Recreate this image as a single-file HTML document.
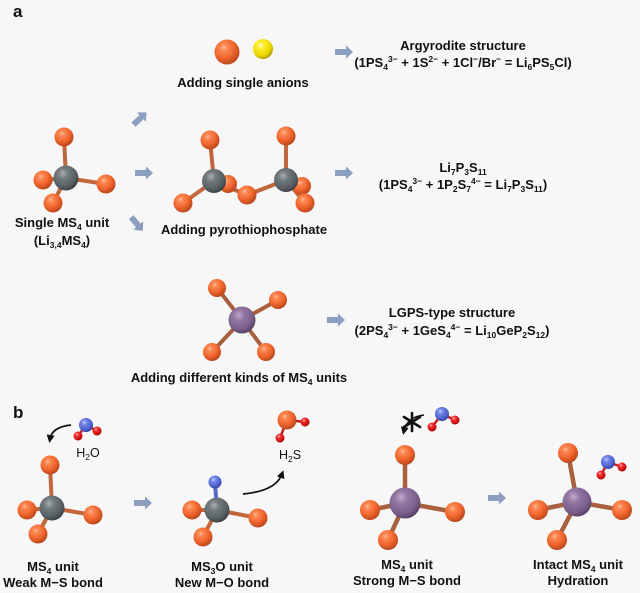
<!DOCTYPE html>
<html><head><meta charset="utf-8">
<style>
html,body{margin:0;padding:0;}
body{width:640px;height:593px;background:#f7f7f7;position:relative;overflow:hidden;font-family:"Liberation Sans",Arial,sans-serif;}
svg{position:absolute;left:0;top:0;}
.t{position:absolute;font-weight:bold;font-size:13px;line-height:16px;text-align:center;white-space:nowrap;transform:translateX(-50%);color:#111;}
.n{font-weight:normal;font-size:12.5px;}
sub{font-size:8.5px;vertical-align:-3px;line-height:0;}
sup{font-size:8.5px;vertical-align:5px;line-height:0;}
.lbl{position:absolute;font-weight:bold;font-size:17px;color:#111;}
</style></head><body>
<svg width="640" height="593" viewBox="0 0 640 593">
<defs>
<radialGradient id="o" cx="38%" cy="32%" r="70%"><stop offset="0" stop-color="#ffc0a0"/><stop offset="0.18" stop-color="#fb8a55"/><stop offset="0.6" stop-color="#f0652c"/><stop offset="1" stop-color="#b8461c"/></radialGradient>
<radialGradient id="y" cx="38%" cy="32%" r="70%"><stop offset="0" stop-color="#fffbc0"/><stop offset="0.25" stop-color="#fbee30"/><stop offset="0.7" stop-color="#eed800"/><stop offset="1" stop-color="#b0a000"/></radialGradient>
<radialGradient id="g" cx="38%" cy="32%" r="70%"><stop offset="0" stop-color="#a8aeb2"/><stop offset="0.3" stop-color="#737a7e"/><stop offset="0.75" stop-color="#585f63"/><stop offset="1" stop-color="#3a4043"/></radialGradient>
<radialGradient id="p" cx="38%" cy="32%" r="70%"><stop offset="0" stop-color="#c0aacb"/><stop offset="0.3" stop-color="#9277a2"/><stop offset="0.75" stop-color="#7a5e8a"/><stop offset="1" stop-color="#564064"/></radialGradient>
<radialGradient id="b" cx="38%" cy="32%" r="70%"><stop offset="0" stop-color="#b8c4ff"/><stop offset="0.3" stop-color="#6f82e6"/><stop offset="0.75" stop-color="#4c5fcc"/><stop offset="1" stop-color="#32409a"/></radialGradient>
<radialGradient id="r" cx="38%" cy="32%" r="70%"><stop offset="0" stop-color="#ffb0b0"/><stop offset="0.3" stop-color="#f03030"/><stop offset="0.75" stop-color="#d01010"/><stop offset="1" stop-color="#900000"/></radialGradient>
<g id="arr"><polygon points="-9,-3 2,-3 2,-6.5 9,0 2,6.5 2,3 -9,3" fill="#8c9fc0"/></g>
<marker id="ah" markerWidth="8" markerHeight="8" refX="4" refY="4" orient="auto" markerUnits="userSpaceOnUse"><path d="M0,0 L8,4 L0,8 Z" fill="#111"/></marker>
</defs>

<!-- block arrows -->
<use href="#arr" transform="translate(140,118.5) rotate(-43)"/>
<use href="#arr" transform="translate(144,173)"/>
<use href="#arr" transform="translate(137,224) rotate(50)"/>
<use href="#arr" transform="translate(344,52)"/>
<use href="#arr" transform="translate(344,173)"/>
<use href="#arr" transform="translate(336,320)"/>
<use href="#arr" transform="translate(143,503)"/>
<use href="#arr" transform="translate(497,498)"/>

<!-- single anions -->
<circle cx="227" cy="52" r="12.5" fill="url(#o)"/>
<circle cx="263" cy="49" r="10" fill="url(#y)"/>

<!-- single MS4 unit (a) -->
<g stroke="#c0683c" stroke-width="4" stroke-linecap="round">
<line x1="66" y1="178" x2="64" y2="137"/><line x1="66" y1="178" x2="43" y2="180"/><line x1="66" y1="178" x2="106" y2="184"/><line x1="66" y1="178" x2="53" y2="203"/>
</g>
<circle cx="43" cy="180" r="9.5" fill="url(#o)"/>
<circle cx="64" cy="137" r="9.5" fill="url(#o)"/>
<circle cx="66" cy="178" r="12.5" fill="url(#g)"/>
<circle cx="106" cy="184" r="9.5" fill="url(#o)"/>
<circle cx="53" cy="203" r="9.5" fill="url(#o)"/>

<!-- pyrothiophosphate -->
<g stroke="#c0683c" stroke-width="4" stroke-linecap="round">
<line x1="214" y1="181" x2="210" y2="140"/><line x1="214" y1="181" x2="183" y2="203"/><line x1="214" y1="181" x2="228" y2="184"/><line x1="214" y1="181" x2="247" y2="195"/>
<line x1="286" y1="180" x2="286" y2="136"/><line x1="286" y1="180" x2="247" y2="195"/><line x1="286" y1="180" x2="302" y2="186"/><line x1="286" y1="180" x2="305" y2="203"/>
</g>
<circle cx="228" cy="184" r="9" fill="url(#o)"/>
<circle cx="302" cy="186" r="9" fill="url(#o)"/>
<circle cx="210" cy="140" r="9.5" fill="url(#o)"/>
<circle cx="286" cy="136" r="9.5" fill="url(#o)"/>
<circle cx="214" cy="181" r="12" fill="url(#g)"/>
<circle cx="286" cy="180" r="12" fill="url(#g)"/>
<circle cx="247" cy="195" r="9.5" fill="url(#o)"/>
<circle cx="183" cy="203" r="9.5" fill="url(#o)"/>
<circle cx="305" cy="203" r="9.5" fill="url(#o)"/>

<!-- purple MS4 (a) -->
<g stroke="#a8603f" stroke-width="4" stroke-linecap="round">
<line x1="242" y1="320" x2="217" y2="288"/><line x1="242" y1="320" x2="278" y2="300"/><line x1="242" y1="320" x2="212" y2="352"/><line x1="242" y1="320" x2="266" y2="352"/>
</g>
<circle cx="217" cy="288" r="9" fill="url(#o)"/>
<circle cx="278" cy="300" r="9" fill="url(#o)"/>
<circle cx="242" cy="320" r="13.5" fill="url(#p)"/>
<circle cx="212" cy="352" r="9" fill="url(#o)"/>
<circle cx="266" cy="352" r="9" fill="url(#o)"/>

<!-- b: MS4 unit weak -->
<g stroke="#c0683c" stroke-width="4" stroke-linecap="round">
<line x1="52" y1="508" x2="50" y2="465"/><line x1="52" y1="508" x2="27" y2="510"/><line x1="52" y1="508" x2="93" y2="515"/><line x1="52" y1="508" x2="38" y2="534"/>
</g>
<circle cx="27" cy="510" r="9.5" fill="url(#o)"/>
<circle cx="50" cy="465" r="9.5" fill="url(#o)"/>
<circle cx="52" cy="508" r="12.5" fill="url(#g)"/>
<circle cx="93" cy="515" r="9.5" fill="url(#o)"/>
<circle cx="38" cy="534" r="9.5" fill="url(#o)"/>

<!-- water 1 -->
<g stroke-width="2.5"><line x1="86" y1="425" x2="78" y2="436" stroke="#c02020"/><line x1="86" y1="425" x2="97" y2="431" stroke="#c02020"/></g>
<circle cx="86" cy="425" r="7" fill="url(#b)"/>
<circle cx="78" cy="436" r="4.5" fill="url(#r)"/>
<circle cx="97" cy="431" r="4.5" fill="url(#r)"/>
<path d="M71,425 Q52,427 50,439" fill="none" stroke="#111" stroke-width="1.8" marker-end="url(#ah)"/>

<!-- MS3O -->
<g stroke="#c0683c" stroke-width="4" stroke-linecap="round">
<line x1="217" y1="510" x2="192" y2="510"/><line x1="217" y1="510" x2="258" y2="518"/><line x1="217" y1="510" x2="203" y2="537"/>
</g>
<line x1="217" y1="510" x2="215" y2="483" stroke="#5a6acf" stroke-width="4"/>
<circle cx="192" cy="510" r="9.5" fill="url(#o)"/>
<circle cx="215" cy="482" r="6.5" fill="url(#b)"/>
<circle cx="217" cy="510" r="12.5" fill="url(#g)"/>
<circle cx="258" cy="518" r="9.5" fill="url(#o)"/>
<circle cx="203" cy="537" r="9.5" fill="url(#o)"/>
<path d="M243,494 Q276,491 282,474" fill="none" stroke="#111" stroke-width="1.8" marker-end="url(#ah)"/>

<!-- H2S -->
<g stroke="#c02020" stroke-width="2.5"><line x1="287" y1="420" x2="305" y2="422"/><line x1="287" y1="420" x2="280" y2="438"/></g>
<circle cx="287" cy="420" r="9.5" fill="url(#o)"/>
<circle cx="305" cy="422" r="4.5" fill="url(#r)"/>
<circle cx="280" cy="438" r="4.5" fill="url(#r)"/>

<!-- purple strong -->
<g stroke="#a8603f" stroke-width="4.5" stroke-linecap="round">
<line x1="405" y1="503" x2="405" y2="455"/><line x1="405" y1="503" x2="370" y2="510"/><line x1="405" y1="503" x2="455" y2="512"/><line x1="405" y1="503" x2="388" y2="540"/>
</g>
<circle cx="370" cy="510" r="10" fill="url(#o)"/>
<circle cx="405" cy="455" r="10" fill="url(#o)"/>
<circle cx="405" cy="503" r="15.5" fill="url(#p)"/>
<circle cx="455" cy="512" r="10" fill="url(#o)"/>
<circle cx="388" cy="540" r="10" fill="url(#o)"/>

<!-- asterisk + water -->
<path d="M424,415 Q407,417 404,431" fill="none" stroke="#111" stroke-width="1.6" marker-end="url(#ah)"/>
<g stroke="#111" stroke-width="2.6" stroke-linecap="round">
<line x1="412" y1="413" x2="412" y2="431"/><line x1="404" y1="417" x2="420" y2="427"/><line x1="404" y1="427" x2="420" y2="417"/>
</g>
<g stroke="#c02020" stroke-width="2.5"><line x1="442" y1="414" x2="432" y2="427"/><line x1="442" y1="414" x2="455" y2="420"/></g>
<circle cx="442" cy="414" r="7" fill="url(#b)"/>
<circle cx="432" cy="427" r="4.5" fill="url(#r)"/>
<circle cx="455" cy="420" r="4.5" fill="url(#r)"/>

<!-- intact purple -->
<g stroke="#a8603f" stroke-width="4.5" stroke-linecap="round">
<line x1="577" y1="502" x2="568" y2="453"/><line x1="577" y1="502" x2="538" y2="510"/><line x1="577" y1="502" x2="622" y2="510"/><line x1="577" y1="502" x2="557" y2="540"/>
</g>
<circle cx="538" cy="510" r="10" fill="url(#o)"/>
<circle cx="568" cy="453" r="10" fill="url(#o)"/>
<circle cx="577" cy="502" r="14.5" fill="url(#p)"/>
<circle cx="622" cy="510" r="10" fill="url(#o)"/>
<circle cx="557" cy="540" r="10" fill="url(#o)"/>
<g stroke="#c02020" stroke-width="2.5"><line x1="608" y1="462" x2="601" y2="475"/><line x1="608" y1="462" x2="622" y2="467"/></g>
<circle cx="608" cy="462" r="7" fill="url(#b)"/>
<circle cx="601" cy="475" r="4.5" fill="url(#r)"/>
<circle cx="622" cy="467" r="4.5" fill="url(#r)"/>
</svg>

<div class="lbl" style="left:13px;top:2px;">a</div>
<div class="lbl" style="left:13px;top:403px;">b</div>

<div class="t" style="left:243px;top:75px;">Adding single anions</div>
<div class="t" style="left:463px;top:37px;line-height:17px;">Argyrodite structure<br>(1PS<sub>4</sub><sup>3−</sup> + 1S<sup>2−</sup> + 1Cl<sup>−</sup>/Br<sup>−</sup> = Li<sub>6</sub>PS<sub>5</sub>Cl)</div>
<div class="t" style="left:463px;top:159px;line-height:17px;">Li<sub>7</sub>P<sub>3</sub>S<sub>11</sub><br>(1PS<sub>4</sub><sup>3−</sup> + 1P<sub>2</sub>S<sub>7</sub><sup>4−</sup> = Li<sub>7</sub>P<sub>3</sub>S<sub>11</sub>)</div>
<div class="t" style="left:62px;top:214px;line-height:18px;">Single MS<sub>4</sub> unit<br>(Li<sub>3,4</sub>MS<sub>4</sub>)</div>
<div class="t" style="left:244px;top:222px;">Adding pyrothiophosphate</div>
<div class="t" style="left:452px;top:304px;line-height:18px;">LGPS-type structure<br>(2PS<sub>4</sub><sup>3−</sup> + 1GeS<sub>4</sub><sup>4−</sup> = Li<sub>10</sub>GeP<sub>2</sub>S<sub>12</sub>)</div>
<div class="t" style="left:239px;top:370px;">Adding different kinds of MS<sub>4</sub> units</div>

<div class="t n" style="left:88px;top:445px;">H<sub>2</sub>O</div>
<div class="t n" style="left:290px;top:447px;">H<sub>2</sub>S</div>

<div class="t" style="left:53px;top:559px;line-height:16px;">MS<sub>4</sub> unit<br>Weak M−S bond</div>
<div class="t" style="left:222px;top:559px;line-height:16px;">MS<sub>3</sub>O unit<br>New M−O bond</div>
<div class="t" style="left:407px;top:557px;line-height:16px;">MS<sub>4</sub> unit<br>Strong M−S bond</div>
<div class="t" style="left:578px;top:557px;line-height:16px;">Intact MS<sub>4</sub> unit<br>Hydration</div>
</body></html>
